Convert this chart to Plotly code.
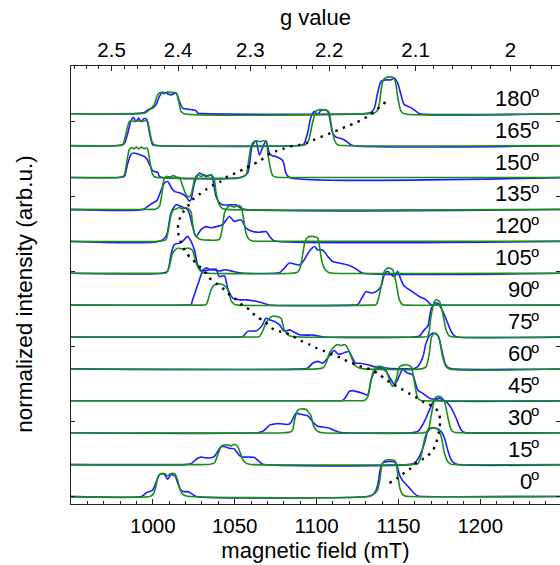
import plotly.graph_objects as go

# ---------------- data ----------------
OFFSET = 0.85          # vertical offset between successive spectra
G_FACTOR = 2437.0      # g * B(mT)  (h*nu/muB, ~34.1 GHz)

angles = [0, 15, 30, 45, 60, 75, 90, 105, 120, 135, 150, 165, 180]

field_ticks = [1000, 1050, 1100, 1150, 1200]
g_ticks = [2.5, 2.4, 2.3, 2.2, 2.1, 2.0]
g_tick_labels = ["2.5", "2.4", "2.3", "2.2", "2.1", "2"]
y_ticks = [0, 2, 4, 6, 8, 10]

# experiment (blue) and simulation (green): (field mT, normalized intensity)
exp_000 = [(993.0, 0.0), (994.5, 0.04), (996.0, 0.10), (998.0, 0.13), (1000.0, 0.18), (1002.0, 0.38), (1004.0, 0.58),
           (1005.5, 0.60), (1007.0, 0.60), (1009.0, 0.46), (1011.0, 0.58), (1013.5, 0.55), (1015.2, 0.36), (1017.0, 0.18),
           (1018.5, 0.13), (1020.5, 0.13), (1022.5, 0.11), (1024.5, 0.05), (1026.5, 0.0),
           (1131.0, 0.0), (1133.5, 0.03), (1135.5, 0.10), (1137.3, 0.30), (1138.8, 0.70), (1140.5, 0.90), (1143.0, 0.93),
           (1146.5, 0.93), (1148.6, 0.88), (1150.5, 0.60), (1152.6, 0.42), (1154.7, 0.32), (1157.7, 0.18), (1159.7, 0.08),
           (1162.0, 0.01), (1165.0, 0.0)]
sim_000 = [(998.0, 0.0), (1000.0, 0.05), (1001.5, 0.20), (1003.0, 0.50), (1004.5, 0.60), (1006.0, 0.62), (1007.5, 0.60),
           (1009.0, 0.55), (1010.5, 0.60), (1012.0, 0.62), (1013.5, 0.60), (1015.0, 0.45), (1016.5, 0.20), (1018.0, 0.07),
           (1020.0, 0.02), (1023.0, 0.0),
           (1132.0, 0.0), (1134.5, 0.05), (1137.0, 0.15), (1138.5, 0.40), (1140.0, 0.85), (1142.0, 0.97), (1145.0, 0.98),
           (1147.5, 0.97), (1148.6, 0.88), (1150.0, 0.45), (1151.0, 0.20), (1152.6, 0.05), (1154.5, 0.01), (1157.0, 0.0)]

exp_015 = [(1020.0, 0.0), (1023.3, 0.02), (1025.4, 0.10), (1027.4, 0.17), (1029.4, 0.20), (1032.5, 0.18), (1035.6, 0.18),
           (1037.6, 0.22), (1039.6, 0.35), (1041.7, 0.48), (1043.7, 0.48), (1045.7, 0.45), (1047.8, 0.43), (1049.8, 0.42),
           (1051.8, 0.30), (1053.5, 0.22), (1055.0, 0.20), (1058.9, 0.20), (1062.0, 0.19), (1064.0, 0.12), (1066.0, 0.04),
           (1068.0, 0.0),
           (1156.0, 0.0), (1159.7, 0.04), (1162.8, 0.22), (1165.9, 0.57), (1167.9, 0.88), (1169.9, 0.97), (1173.0, 0.97),
           (1176.1, 0.88), (1178.1, 0.71), (1180.1, 0.39), (1182.2, 0.13), (1184.2, 0.04), (1186.2, 0.0)]
sim_015 = [(1030.0, 0.0), (1035.0, 0.01), (1037.6, 0.05), (1039.6, 0.25), (1041.7, 0.48), (1043.7, 0.53), (1045.7, 0.52),
           (1047.8, 0.50), (1049.8, 0.54), (1051.8, 0.48), (1053.5, 0.30), (1055.0, 0.13), (1057.0, 0.04), (1059.0, 0.01),
           (1062.0, 0.0),
           (1158.0, 0.0), (1161.8, 0.02), (1163.8, 0.22), (1165.9, 0.66), (1167.9, 0.93), (1169.9, 0.98), (1172.0, 0.97),
           (1174.0, 0.94), (1176.1, 0.75), (1178.1, 0.31), (1180.1, 0.08), (1182.2, 0.01), (1185.0, 0.0)]

exp_030 = [(1064.0, 0.0), (1067.0, 0.03), (1069.5, 0.12), (1071.2, 0.20), (1075.3, 0.24), (1078.0, 0.24), (1081.4, 0.22),
           (1083.4, 0.23), (1084.5, 0.28), (1086.4, 0.45), (1087.5, 0.52), (1089.5, 0.50), (1092.5, 0.47), (1094.6, 0.45),
           (1096.6, 0.35), (1098.7, 0.24), (1100.7, 0.17), (1103.7, 0.15), (1107.8, 0.12), (1111.0, 0.06), (1114.0, 0.01),
           (1117.0, 0.0),
           (1158.0, 0.0), (1161.8, 0.03), (1164.0, 0.15), (1165.9, 0.30), (1169.9, 0.70), (1172.0, 0.88), (1175.0, 0.92),
           (1177.0, 0.88), (1179.1, 0.83), (1182.2, 0.66), (1185.2, 0.39), (1187.2, 0.17), (1189.2, 0.03), (1191.3, 0.0)]
sim_030 = [(1080.0, 0.0), (1084.0, 0.02), (1085.4, 0.08), (1086.4, 0.30), (1087.5, 0.50), (1088.5, 0.60), (1090.5, 0.63),
           (1093.6, 0.62), (1095.0, 0.55), (1096.6, 0.45), (1098.0, 0.20), (1099.7, 0.08), (1101.5, 0.02), (1104.0, 0.0),
           (1165.0, 0.0), (1167.9, 0.03), (1169.9, 0.43), (1172.0, 0.88), (1173.0, 0.96), (1175.0, 0.97), (1176.1, 0.95),
           (1178.1, 0.83), (1180.1, 0.43), (1182.2, 0.08), (1184.0, 0.01), (1187.0, 0.0)]

exp_045 = [(1112.0, 0.0), (1115.9, 0.01), (1118.0, 0.11), (1120.0, 0.25), (1122.0, 0.27), (1124.1, 0.25), (1128.2, 0.20),
           (1131.2, 0.16), (1133.3, 0.56), (1136.3, 0.83), (1139.4, 0.87), (1142.5, 0.78), (1145.5, 0.56), (1147.5, 0.43),
           (1149.5, 0.56), (1152.6, 0.83), (1155.6, 0.74), (1158.7, 0.69), (1161.8, 0.29), (1164.8, 0.20), (1168.9, 0.07),
           (1173.0, 0.03), (1176.0, 0.0)]
sim_045 = [(1125.0, 0.0), (1129.2, 0.01), (1131.2, 0.10), (1132.3, 0.30), (1134.3, 0.74), (1136.3, 0.90), (1138.0, 0.92),
           (1140.4, 0.90), (1142.5, 0.80), (1143.4, 0.70), (1145.5, 0.45), (1146.5, 0.38), (1147.5, 0.45), (1148.6, 0.56),
           (1150.6, 0.90), (1152.6, 0.95), (1154.7, 0.96), (1156.0, 0.95), (1157.7, 0.91), (1159.0, 0.70), (1160.0, 0.45),
           (1161.8, 0.07), (1163.8, 0.01), (1166.0, 0.0)]

exp_060 = [(1092.0, 0.0), (1094.6, 0.02), (1097.6, 0.15), (1100.7, 0.20), (1103.7, 0.15), (1106.8, 0.29), (1109.8, 0.46),
           (1110.9, 0.49), (1112.9, 0.40), (1115.0, 0.40), (1118.0, 0.45), (1120.0, 0.46), (1121.5, 0.33), (1123.1, 0.20),
           (1124.1, 0.15), (1126.1, 0.15), (1131.2, 0.11), (1135.3, 0.06), (1138.4, 0.05), (1142.0, 0.03), (1146.0, 0.01),
           (1155.0, 0.0), (1158.0, 0.0), (1161.5, 0.05), (1164.8, 0.30), (1166.9, 0.69), (1169.4, 0.91), (1172.0, 0.95),
           (1174.5, 0.86), (1176.5, 0.50), (1178.5, 0.15), (1180.5, 0.03), (1183.0, 0.0)]
sim_060 = [(1100.0, 0.0), (1104.0, 0.03), (1105.8, 0.15), (1107.8, 0.42), (1109.8, 0.55), (1111.5, 0.62), (1112.9, 0.65),
           (1115.0, 0.62), (1117.0, 0.65), (1118.0, 0.62), (1119.0, 0.55), (1121.1, 0.33), (1123.1, 0.11), (1126.1, 0.02),
           (1129.0, 0.0),
           (1164.0, 0.0), (1166.9, 0.06), (1168.9, 0.42), (1169.9, 0.78), (1170.9, 0.91), (1173.0, 0.95), (1174.0, 0.90),
           (1175.0, 0.78), (1177.0, 0.33), (1179.1, 0.06), (1181.0, 0.0)]

exp_075 = [(1052.0, 0.0), (1054.9, 0.01), (1057.9, 0.15), (1061.0, 0.16), (1063.0, 0.16), (1065.0, 0.22), (1067.1, 0.33),
           (1069.1, 0.50), (1071.2, 0.46), (1074.2, 0.41), (1077.3, 0.33), (1080.3, 0.15), (1083.4, 0.19), (1085.4, 0.15),
           (1089.5, 0.06), (1094.6, 0.05), (1098.0, 0.05), (1101.7, 0.02), (1104.8, 0.0),
           (1159.0, 0.0), (1162.7, 0.02), (1165.8, 0.19), (1167.9, 0.28), (1169.9, 0.73), (1172.0, 0.90), (1174.0, 0.90),
           (1176.1, 0.77), (1178.1, 0.59), (1180.1, 0.37), (1182.2, 0.15), (1184.2, 0.03), (1186.2, 0.0)]
sim_075 = [(1060.0, 0.0), (1065.1, 0.01), (1067.0, 0.15), (1069.1, 0.37), (1071.2, 0.50), (1073.2, 0.55), (1075.3, 0.55),
           (1077.0, 0.53), (1078.3, 0.50), (1080.3, 0.19), (1082.0, 0.08), (1083.4, 0.03), (1086.4, 0.01), (1090.0, 0.0),
           (1164.0, 0.0), (1167.9, 0.02), (1169.9, 0.55), (1172.0, 0.95), (1173.0, 0.99), (1174.0, 0.98), (1175.0, 0.95),
           (1177.0, 0.64), (1179.1, 0.19), (1181.0, 0.03), (1184.0, 0.0)]

exp_090 = [(1020.0, 0.0), (1023.3, 0.01), (1024.3, 0.14), (1027.4, 0.54), (1030.4, 0.90), (1032.5, 0.99), (1035.6, 0.94),
           (1038.6, 0.96), (1040.6, 0.76), (1043.7, 0.78), (1045.7, 0.45), (1048.7, 0.19), (1052.8, 0.14), (1056.9, 0.14),
           (1063.0, 0.10), (1069.1, 0.03), (1071.2, 0.0),
           (1122.0, 0.0), (1125.1, 0.01), (1128.2, 0.23), (1130.2, 0.36), (1133.3, 0.32), (1136.3, 0.36), (1139.4, 0.50),
           (1141.4, 0.81), (1143.4, 0.90), (1145.5, 0.81), (1147.5, 0.76), (1149.5, 0.90), (1151.6, 0.67), (1153.6, 0.50),
           (1156.6, 0.41), (1159.7, 0.32), (1162.7, 0.23), (1166.9, 0.14), (1169.9, 0.01), (1173.0, 0.0)]
sim_090 = [(1028.0, 0.0), (1032.5, 0.01), (1033.8, 0.15), (1035.6, 0.41), (1037.6, 0.54), (1040.6, 0.57), (1043.7, 0.52),
           (1045.7, 0.41), (1046.8, 0.25), (1047.8, 0.12), (1049.8, 0.02), (1052.0, 0.0),
           (1132.0, 0.0), (1136.3, 0.01), (1138.0, 0.20), (1139.4, 0.50), (1141.4, 0.90), (1143.4, 0.99), (1145.0, 0.98),
           (1146.5, 0.94), (1148.6, 0.59), (1150.6, 0.14), (1152.6, 0.01), (1155.0, 0.0)]

exp_105 = [(1006.0, 0.0), (1009.0, 0.05), (1011.1, 0.50), (1013.1, 0.76), (1016.2, 0.80), (1018.2, 0.85), (1021.3, 0.98),
           (1023.3, 0.85), (1025.4, 0.62), (1027.4, 0.22), (1029.4, 0.08), (1032.5, 0.07), (1036.0, 0.10), (1040.6, 0.06),
           (1044.0, 0.09), (1048.7, 0.05), (1052.0, 0.02), (1056.0, 0.0),
           (1074.0, 0.0), (1077.3, 0.01), (1080.0, 0.12), (1083.4, 0.27), (1089.5, 0.22), (1092.5, 0.36), (1095.0, 0.55),
           (1098.7, 0.71), (1100.7, 0.62), (1103.7, 0.62), (1106.8, 0.45), (1109.8, 0.31), (1113.9, 0.27), (1119.0, 0.22),
           (1123.1, 0.14), (1126.1, 0.05), (1128.2, 0.0)]
sim_105 = [(1005.0, 0.0), (1008.1, 0.01), (1010.1, 0.18), (1012.1, 0.54), (1014.2, 0.64), (1015.5, 0.67), (1017.2, 0.65),
           (1019.2, 0.64), (1021.3, 0.67), (1023.0, 0.65), (1024.3, 0.60), (1026.4, 0.27), (1028.4, 0.09), (1030.4, 0.02),
           (1034.0, 0.0),
           (1085.0, 0.0), (1088.5, 0.03), (1090.0, 0.15), (1091.5, 0.50), (1093.0, 0.85), (1094.6, 0.96), (1096.6, 0.98),
           (1099.0, 0.97), (1100.7, 0.94), (1101.7, 0.75), (1102.7, 0.45), (1104.0, 0.20), (1105.8, 0.07), (1107.8, 0.01),
           (1110.0, 0.0)]

exp_120 = [(1004.0, 0.0), (1008.1, 0.13), (1011.1, 0.75), (1014.2, 0.97), (1017.2, 0.93), (1021.3, 0.84), (1024.3, 0.39),
           (1026.4, 0.13), (1029.4, 0.31), (1032.5, 0.39), (1035.5, 0.36), (1038.6, 0.39), (1042.6, 0.44), (1046.7, 0.66),
           (1049.8, 0.53), (1053.9, 0.57), (1056.9, 0.35), (1061.0, 0.26), (1065.0, 0.24), (1069.2, 0.26), (1071.0, 0.15),
           (1073.2, 0.04), (1075.3, 0.0)]
sim_120 = [(1003.0, 0.0), (1006.5, 0.02), (1008.1, 0.05), (1009.5, 0.30), (1011.1, 0.70), (1012.5, 0.83), (1014.2, 0.86),
           (1016.0, 0.90), (1018.0, 0.86), (1020.0, 0.90), (1022.0, 0.86), (1023.3, 0.78), (1024.5, 0.40), (1025.4, 0.22),
           (1027.4, 0.09), (1030.0, 0.04), (1035.0, 0.03), (1040.6, 0.05), (1042.6, 0.40), (1043.7, 0.75), (1045.7, 0.91),
           (1047.5, 0.95), (1049.5, 0.91), (1051.5, 0.95), (1053.9, 0.92), (1055.0, 0.70), (1056.9, 0.22), (1058.5, 0.06),
           (1061.0, 0.01), (1064.0, 0.0)]

exp_135 = [(994.0, 0.0), (997.0, 0.08), (1000.0, 0.17), (1002.5, 0.24), (1004.5, 0.45), (1007.0, 0.70), (1009.0, 0.74),
           (1011.0, 0.60), (1013.1, 0.48), (1017.2, 0.43), (1020.3, 0.34), (1022.3, 0.22), (1023.3, 0.26), (1025.4, 0.70),
           (1028.4, 0.97), (1032.5, 0.88), (1035.6, 0.92), (1038.6, 0.34), (1040.6, 0.18), (1042.6, 0.12), (1046.7, 0.12),
           (1050.8, 0.12), (1053.0, 0.05), (1056.0, 0.0)]
sim_135 = [(1000.0, 0.0), (1002.0, 0.01), (1004.0, 0.08), (1005.5, 0.40), (1007.0, 0.83), (1008.5, 0.88), (1010.5, 0.86),
           (1012.5, 0.90), (1014.5, 0.86), (1016.2, 0.85), (1018.0, 0.65), (1020.3, 0.39), (1021.5, 0.34), (1023.0, 0.36),
           (1024.5, 0.60), (1025.4, 0.80), (1027.4, 0.92), (1029.5, 0.88), (1031.5, 0.92), (1033.5, 0.88), (1035.6, 0.92),
           (1037.5, 0.80), (1038.6, 0.45), (1040.6, 0.12), (1042.6, 0.02), (1045.0, 0.0)]

exp_150 = [(979.0, 0.0), (982.6, 0.03), (984.5, 0.35), (986.7, 0.62), (988.5, 0.65), (990.5, 0.63), (992.5, 0.60),
           (994.8, 0.56), (996.5, 0.48), (997.9, 0.35), (999.9, 0.18), (1001.0, 0.16), (1002.9, 0.14), (1004.0, 0.03),
           (1006.0, 0.0),
           (1054.0, 0.0), (1057.9, 0.12), (1060.6, 0.83), (1063.0, 0.98), (1065.1, 0.60), (1067.5, 0.85), (1069.2, 0.98),
           (1071.2, 0.65), (1073.0, 0.58), (1075.3, 0.56), (1079.3, 0.45), (1081.4, 0.10), (1083.4, 0.0)]
sim_150 = [(978.0, 0.0), (981.0, 0.01), (982.6, 0.07), (984.0, 0.40), (985.6, 0.74), (987.0, 0.80), (988.5, 0.76),
           (990.0, 0.81), (991.5, 0.76), (993.0, 0.81), (994.5, 0.77), (996.5, 0.78), (997.9, 0.50), (999.5, 0.12),
           (1001.0, 0.02), (1003.0, 0.0),
           (1053.0, 0.0), (1056.9, 0.07), (1058.5, 0.45), (1060.0, 0.83), (1061.5, 0.95), (1063.5, 0.98), (1065.5, 0.95),
           (1067.5, 0.98), (1069.2, 0.95), (1070.1, 0.70), (1071.5, 0.30), (1073.2, 0.05), (1075.0, 0.01), (1078.0, 0.0)]

exp_165 = [(979.0, 0.0), (982.5, 0.05), (984.5, 0.30), (986.5, 0.64), (988.1, 0.75), (989.7, 0.64), (991.3, 0.73),
           (992.8, 0.64), (994.8, 0.72), (996.2, 0.70), (997.9, 0.35), (999.9, 0.02), (1002.0, 0.0),
           (1089.0, 0.0), (1092.0, 0.03), (1094.6, 0.35), (1096.5, 0.75), (1098.7, 0.91), (1100.7, 0.82), (1102.5, 0.93),
           (1105.0, 0.95), (1107.0, 0.90), (1109.8, 0.33), (1112.0, 0.22), (1114.0, 0.20), (1117.0, 0.15), (1120.0, 0.05),
           (1122.0, 0.0)]
sim_165 = [(978.0, 0.0), (981.6, 0.02), (983.5, 0.30), (985.6, 0.64), (987.0, 0.66), (989.0, 0.64), (991.0, 0.66),
           (993.0, 0.64), (995.0, 0.66), (996.8, 0.64), (998.0, 0.40), (999.5, 0.10), (1000.9, 0.02), (1003.0, 0.0),
           (1090.0, 0.0), (1093.0, 0.02), (1095.0, 0.12), (1097.5, 0.60), (1099.5, 0.90), (1100.7, 0.95), (1103.0, 0.96),
           (1105.8, 0.95), (1107.5, 0.90), (1108.8, 0.60), (1110.9, 0.15), (1112.9, 0.02), (1116.0, 0.0)]

exp_180 = [(990.0, 0.0), (994.8, 0.03), (996.8, 0.10), (999.9, 0.15), (1002.0, 0.24), (1004.0, 0.46), (1006.0, 0.57),
           (1009.0, 0.53), (1011.1, 0.50), (1014.2, 0.55), (1016.2, 0.33), (1018.2, 0.15), (1021.3, 0.12), (1024.3, 0.10),
           (1026.4, 0.08), (1027.4, 0.01), (1030.0, 0.0),
           (1130.0, 0.0), (1133.3, 0.03), (1135.3, 0.15), (1137.3, 0.55), (1139.4, 0.86), (1142.5, 0.90), (1145.5, 0.90),
           (1147.5, 0.95), (1149.5, 0.82), (1151.6, 0.50), (1153.6, 0.24), (1156.7, 0.18), (1159.7, 0.10), (1161.8, 0.03),
           (1163.0, 0.0)]
sim_180 = [(990.0, 0.0), (994.8, 0.01), (996.8, 0.06), (999.0, 0.15), (1000.9, 0.24), (1002.9, 0.50), (1005.0, 0.57),
           (1007.0, 0.53), (1009.0, 0.58), (1011.0, 0.56), (1012.1, 0.57), (1014.2, 0.55), (1015.8, 0.33), (1017.2, 0.06),
           (1019.2, 0.0),
           (1130.0, 0.0), (1135.3, 0.02), (1137.3, 0.10), (1138.4, 0.28), (1140.4, 0.86), (1142.0, 0.95), (1144.5, 0.98),
           (1146.5, 0.97), (1148.1, 0.86), (1149.5, 0.46), (1151.6, 0.06), (1153.6, 0.0)]

exp_spectra = [exp_000, exp_015, exp_030, exp_045, exp_060, exp_075, exp_090,
               exp_105, exp_120, exp_135, exp_150, exp_165, exp_180]
sim_spectra = [sim_000, sim_015, sim_030, sim_045, sim_060, sim_075, sim_090,
               sim_105, sim_120, sim_135, sim_150, sim_165, sim_180]

# dotted guide line (field mT, stacked y)
guide_field = [1144.5, 1149.5, 1152.6, 1156.7, 1160.8, 1166.9, 1170.9, 1173.0, 1174.6, 1175.5, 1174.5, 1171.0, 1166.0,
               1160.8, 1156.7, 1151.6, 1146.5, 1142.5, 1138.4, 1133.3, 1128.2, 1124.1, 1119.0, 1115.0, 1109.8, 1104.8,
               1099.7, 1095.6, 1090.5, 1085.4, 1081.4, 1077.3, 1073.2, 1068.1, 1063.0, 1058.9, 1054.9, 1050.8, 1046.7,
               1043.7, 1039.6, 1034.5, 1031.5, 1028.4, 1024.3, 1020.3, 1018.2, 1016.2, 1015.2, 1016.2, 1018.2, 1021.3,
               1024.3, 1028.4, 1032.5, 1036.5, 1041.7, 1045.7, 1050.8, 1055.9, 1061.0, 1065.1, 1070.1, 1075.3, 1079.3,
               1084.4, 1089.5, 1094.6, 1098.7, 1108.9, 1113.9, 1119.0, 1124.1, 1128.2, 1132.3, 1136.3, 1140.4, 1144.5]
guide_y = [0.36, 0.49, 0.60, 0.72, 0.89, 1.05, 1.22, 1.42, 1.70, 2.00, 2.25, 2.40, 2.50,
           2.64, 2.74, 2.87, 3.00, 3.11, 3.25, 3.38, 3.44, 3.51, 3.60, 3.69, 3.78, 3.87,
           3.96, 4.05, 4.15, 4.27, 4.36, 4.40, 4.47, 4.67, 4.80, 4.98, 5.09, 5.25, 5.38,
           5.51, 5.65, 5.82, 6.00, 6.13, 6.31, 6.49, 6.67, 6.89, 7.11, 7.38, 7.56, 7.73,
           7.91, 8.05, 8.18, 8.29, 8.40, 8.53, 8.62, 8.73, 8.85, 8.93, 9.10, 9.20, 9.26,
           9.33, 9.37, 9.43, 9.51, 9.69, 9.78, 9.87, 9.96, 10.05, 10.15, 10.29, 10.45, 10.58]

# ---------------- figure ----------------
BLUE = "rgb(30,30,255)"
GREEN = "rgb(25,140,25)"
FONT = "Liberation Sans, Arial, Helvetica, sans-serif"
X_RANGE = [950.0, 1248.7]
Y_RANGE = [-0.2, 11.47]

fig = go.Figure()


def add_spectrum(points, base, color):
    xs = [X_RANGE[0] - 5] + [p[0] for p in points] + [X_RANGE[1] + 5]
    ys = [base] + [base + p[1] for p in points] + [base]
    fig.add_trace(go.Scatter(x=xs, y=ys, mode="lines",
                             line=dict(color=color, width=1.6, shape="spline", smoothing=0.7),
                             hoverinfo="skip", showlegend=False))


for i, pts in enumerate(exp_spectra):
    add_spectrum(pts, i * OFFSET, BLUE)
for i, pts in enumerate(sim_spectra):
    add_spectrum(pts, i * OFFSET, GREEN)

# dotted guide line, drawn on the top (g-value) x axis which shares the field range
fig.add_trace(go.Scatter(x=guide_field, y=guide_y, xaxis="x2", yaxis="y", mode="lines",
                         line=dict(color="black", width=2.4, dash="2.4px,5.6px", shape="spline", smoothing=0.8),
                         hoverinfo="skip", showlegend=False))
# invisible point so that the right-hand y axis (ticks only) is drawn
fig.add_trace(go.Scatter(x=[1000], y=[0], xaxis="x", yaxis="y2", mode="markers",
                         marker=dict(opacity=0), hoverinfo="skip", showlegend=False))

# angle labels: number plus a small raised "o"
for i, ang in enumerate(angles):
    base = i * OFFSET
    fig.add_annotation(x=1231.6, y=base + 0.41, xref="x", yref="y",
                       text=str(ang), showarrow=False, xanchor="right", yanchor="middle",
                       borderpad=0, borderwidth=0,
                       font=dict(family=FONT, size=22, color="black"))
    fig.add_annotation(x=1230.9, y=base + 0.58, xref="x", yref="y",
                       text="o", showarrow=False, xanchor="left", yanchor="middle",
                       borderpad=0, borderwidth=0,
                       font=dict(family=FONT, size=15, color="black"))

# y axis title (placed explicitly)
fig.add_annotation(x=-0.094, y=0.48, xref="paper", yref="paper", text="normalized intensity (arb.u.)",
                   textangle=-90, showarrow=False, xanchor="center", yanchor="middle",
                   font=dict(family=FONT, size=22.5, color="black"))

minor_field = [v for v in range(960, 1250, 10) if v % 50 != 0]
minor_g = [round(1.96 + 0.02 * k, 2) for k in range(31)]
minor_g = [g for g in minor_g if round(g * 10, 6) != round(g * 10) and X_RANGE[0] < G_FACTOR / g < X_RANGE[1]]

axis_common = dict(showgrid=False, zeroline=False, showline=True, linecolor="#222", linewidth=1.3,
                   ticks="inside", tickcolor="#222", tickwidth=1.2)

fig.update_layout(
    width=560, height=565,
    margin=dict(l=71, r=0, t=66, b=61),
    paper_bgcolor="white", plot_bgcolor="white",
    font=dict(family=FONT, size=20, color="black"),
    showlegend=False,
    xaxis=dict(range=X_RANGE, tickvals=field_ticks, ticktext=[str(v) for v in field_ticks], ticklen=5,
               minor=dict(tickvals=minor_field, ticklen=3, ticks="inside", tickcolor="#222", tickwidth=1.1),
               title=dict(text="magnetic field (mT)", font=dict(size=22), standoff=6),
               ticklabelstandoff=3,
               tickfont=dict(size=20.5), **axis_common),
    xaxis2=dict(range=X_RANGE, overlaying="x", side="top", anchor="y",
                tickvals=[G_FACTOR / g for g in g_ticks], ticktext=g_tick_labels, ticklen=5,
                minor=dict(tickvals=[G_FACTOR / g for g in minor_g], ticklen=3, ticks="inside",
                           tickcolor="#222", tickwidth=1.1),
                title=dict(text="g value", font=dict(size=22), standoff=5),
                tickfont=dict(size=20.5), **axis_common),
    yaxis=dict(range=Y_RANGE, tickvals=y_ticks, showticklabels=False, ticklen=4, **axis_common),
    yaxis2=dict(range=Y_RANGE, overlaying="y", side="right", anchor="x", tickvals=y_ticks,
                showticklabels=False, ticklen=4, showgrid=False, zeroline=False, showline=False,
                ticks="inside", tickcolor="#222", tickwidth=1.2),
)

fig.write_html("out.html")
